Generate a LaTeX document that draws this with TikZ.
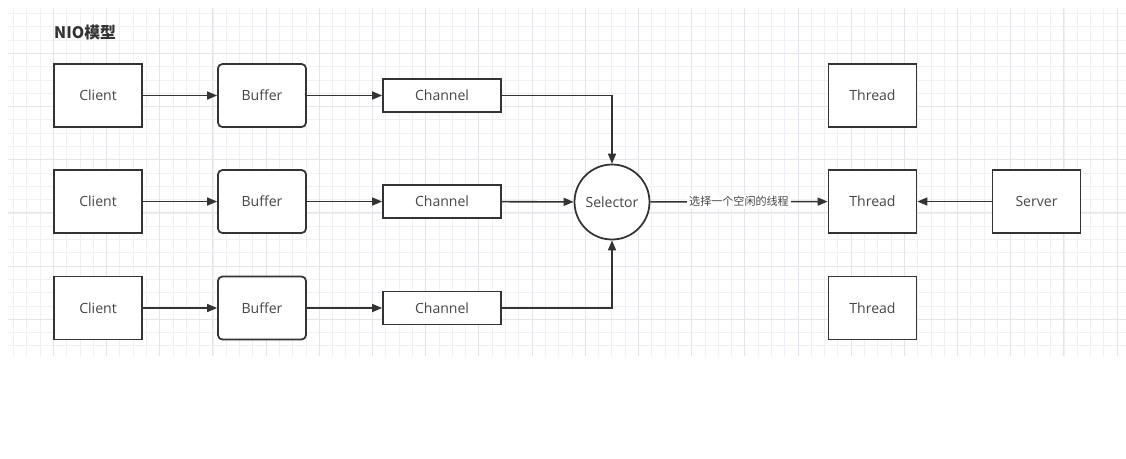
\documentclass[tikz,border=0pt]{standalone}
\usepackage{fontspec}
\setmainfont{Open Sans}
\newfontfamily\cjk{Noto Sans CJK SC}
\usetikzlibrary{arrows.meta, positioning}
\definecolor{nioline}{RGB}{51,51,51}
\definecolor{niotext}{RGB}{70,70,70}
\definecolor{niogrid}{RGB}{240,240,244}
\definecolor{niomajor}{RGB}{228,228,234}

\begin{document}
\begin{tikzpicture}[x=0.02cm, y=-0.02cm, font=\fontsize{8}{10}\selectfont,
  box/.style={draw=nioline, line width=1pt, fill=white, text=niotext,
    minimum width=1.76cm, minimum height=1.26cm, inner sep=0pt},
  bufbox/.style={box, rounded corners=2.5pt},
  chanbox/.style={box, minimum width=2.36cm, minimum height=0.66cm},
  selbox/.style={box, circle, minimum size=1.5cm},
  flow/.style={draw=nioline, line width=0.9pt, -{Triangle[length=2mm,width=1.6mm]}}
]
% Canvas
\useasboundingbox (0,0) rectangle (1126,458);
\fill[white] (0,0) rectangle (1126,458);
\draw[niogrid, line width=0.3pt, step=0.266cm] (8,8) grid (1126,356);
\draw[niomajor, line width=0.35pt, step=1.064cm] (8,8) grid (1126,356);
% Title
\node[anchor=west, font=\cjk\bfseries\fontsize{9}{11}\selectfont, text=nioline]
  (title) at (48,32) {NIO模型};
% Client / Buffer / Channel rows
\foreach \r/\yy in {1/95.5, 2/201.5, 3/308} {
  \node[box] (cl\r) at (98,\yy) {Client};
  \node[bufbox] (bf\r) at (262,\yy) {Buffer};
  \node[chanbox] (ch\r) at (442,\yy) {Channel};
  \draw[flow] (cl\r) -- (bf\r);
  \draw[flow] (bf\r) -- (ch\r);
}
% Selector
\node[selbox] (sel) at (612,202) {Selector};
\draw[flow] (ch1) -| (sel);
\draw[flow] (ch2) -- (sel);
\draw[flow] (ch3) -| (sel);
% Threads and server
\node[box] (th1) at (872.5,95.5) {Thread};
\node[box] (th2) at (872.5,201.5) {Thread};
\node[box] (th3) at (872.5,308) {Thread};
\node[box] (srv) at (1036.5,201.5) {Server};
\draw[flow] (sel) -- node[fill=white, inner sep=1pt, text=niotext,
  font=\cjk\fontsize{6.3}{8}\selectfont] (pick) {选择一个空闲的线程} (th2);
\draw[flow] (srv) -- (th2);
\end{tikzpicture}
\end{document}
